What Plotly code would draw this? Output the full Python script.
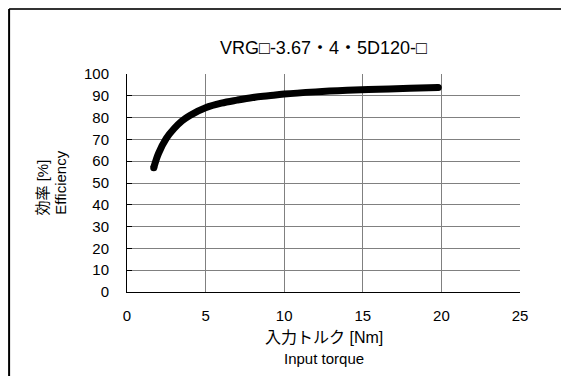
import plotly.graph_objects as go

# efficiency curve
torque = [1.7, 2.0, 2.5, 3.0, 3.5, 4.0, 5.0, 6.0, 7.0, 8.0, 9.0, 10.0, 12.0, 14.0, 16.0, 18.0, 19.8]
efficiency = [57.0, 63.5, 70.5, 75.0, 78.5, 81.0, 84.5, 86.6, 88.0, 89.2, 90.0, 90.8, 91.8, 92.5, 93.0, 93.5, 93.8]

x_ticks = [0, 5, 10, 15, 20, 25]
y_ticks = [0, 10, 20, 30, 40, 50, 60, 70, 80, 90, 100]

title_text = "VRG□-3.67・4・5D120-□"
y_title_jp = "効率 [%]"
y_title_en = "Efficiency"
x_title_jp = "入力トルク [Nm]"
x_title_en = "Input torque"

font_main = "Liberation Sans, Noto Sans CJK JP"

fig = go.Figure()

fig.add_trace(go.Scatter(
    x=torque,
    y=efficiency,
    mode='lines',
    line=dict(color='black', width=7, shape='spline'),
    showlegend=False
))

# round ends of the thick line
fig.add_trace(go.Scatter(
    x=[torque[0], torque[-1]],
    y=[efficiency[0], efficiency[-1]],
    mode='markers',
    marker=dict(color='black', size=7),
    showlegend=False
))

# page body has an 8px margin, so the figure is shifted by 8px
fig.update_layout(
    width=561,
    height=368,
    margin=dict(l=119, r=49, t=66, b=84),
    plot_bgcolor='white',
    paper_bgcolor='white',
    font=dict(family=font_main, size=15, color='black'),
    xaxis=dict(
        range=[0, 25],
        tickvals=x_ticks,
        showgrid=True,
        gridcolor='#808080',
        gridwidth=1,
        showline=True,
        linecolor='black',
        linewidth=1,
        ticks='',
        ticklabelstandoff=10,
        zeroline=False,
        tickfont=dict(size=15),
    ),
    yaxis=dict(
        range=[0, 100],
        tickvals=y_ticks,
        showgrid=True,
        gridcolor='#808080',
        gridwidth=1,
        showline=True,
        linecolor='black',
        linewidth=1,
        ticks='inside',
        ticklen=5,
        tickcolor='black',
        ticklabelstandoff=14,
        zeroline=False,
        tickfont=dict(size=15),
    ),
    annotations=[
        dict(text=title_text, x=0.5, y=1.119, xref='paper', yref='paper',
             xanchor='center', yanchor='middle',
             showarrow=False, font=dict(size=18)),
        dict(text=y_title_jp, x=-0.214, y=0.479, xref='paper', yref='paper',
             xanchor='center', yanchor='middle',
             showarrow=False, textangle=-90, font=dict(size=15)),
        dict(text=y_title_en, x=-0.170, y=0.502, xref='paper', yref='paper',
             xanchor='center', yanchor='middle',
             showarrow=False, textangle=-90, font=dict(size=15)),
        dict(text=x_title_jp, x=0.5, y=-0.211, xref='paper', yref='paper',
             xanchor='center', yanchor='middle',
             showarrow=False, font=dict(size=16)),
        dict(text=x_title_en, x=0.5, y=-0.307, xref='paper', yref='paper',
             xanchor='center', yanchor='middle',
             showarrow=False, font=dict(size=15)),
    ],
    shapes=[
        dict(type='line', xref='paper', yref='paper', x0=-0.300, x1=1.2, y0=1.298, y1=1.298,
             line=dict(color='#333333', width=2)),
        dict(type='line', xref='paper', yref='paper', x0=-0.300, x1=-0.300, y0=1.298, y1=-0.5,
             line=dict(color='black', width=2)),
    ],
)

fig.write_html("out.html")
